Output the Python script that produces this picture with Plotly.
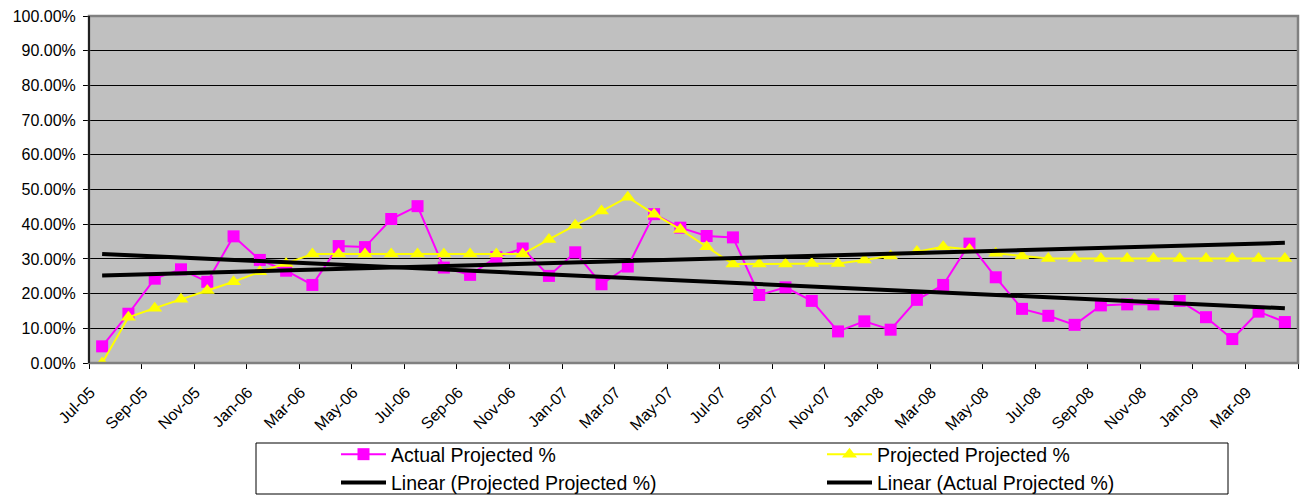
import numpy as np
import plotly.graph_objects as go

# Month labels, Jul-05 .. Apr-09
months = [
    "Jul-05", "Aug-05", "Sep-05", "Oct-05", "Nov-05", "Dec-05",
    "Jan-06", "Feb-06", "Mar-06", "Apr-06", "May-06", "Jun-06",
    "Jul-06", "Aug-06", "Sep-06", "Oct-06", "Nov-06", "Dec-06",
    "Jan-07", "Feb-07", "Mar-07", "Apr-07", "May-07", "Jun-07",
    "Jul-07", "Aug-07", "Sep-07", "Oct-07", "Nov-07", "Dec-07",
    "Jan-08", "Feb-08", "Mar-08", "Apr-08", "May-08", "Jun-08",
    "Jul-08", "Aug-08", "Sep-08", "Oct-08", "Nov-08", "Dec-08",
    "Jan-09", "Feb-09", "Mar-09", "Apr-09",
]

# Actual Projected % (fractions)
actual = [
    0.048, 0.142, 0.243, 0.270, 0.234, 0.365, 0.297, 0.266, 0.225, 0.337,
    0.334, 0.415, 0.452, 0.275, 0.254, 0.305, 0.330, 0.251, 0.319, 0.227,
    0.278, 0.429, 0.390, 0.366, 0.362, 0.196, 0.218, 0.179, 0.091, 0.120,
    0.096, 0.182, 0.225, 0.344, 0.247, 0.156, 0.136, 0.110, 0.166, 0.169,
    0.169, 0.179, 0.132, 0.069, 0.148, 0.118,
]

# Projected Projected % (fractions)
projected = [
    0.000, 0.132, 0.158, 0.184, 0.209, 0.234, 0.263, 0.287, 0.314, 0.314,
    0.314, 0.314, 0.314, 0.314, 0.314, 0.314, 0.314, 0.356, 0.397, 0.438,
    0.478, 0.429, 0.385, 0.335, 0.285, 0.285, 0.285, 0.287, 0.287, 0.297,
    0.308, 0.321, 0.335, 0.327, 0.316, 0.308, 0.301, 0.301, 0.301, 0.301,
    0.301, 0.301, 0.301, 0.301, 0.301, 0.301,
]

x = np.arange(len(months))

# Least-squares linear trends
pa = np.polyfit(x, actual, 1)
pp = np.polyfit(x, projected, 1)
trend_actual = np.polyval(pa, x)
trend_projected = np.polyval(pp, x)

FONT = "Liberation Sans, Arial, sans-serif"

# plot-area geometry in pixels (used to place the legend box)
L, R, T, B = 89, 1298, 16, 363
PW, PH = R - L, B - T


def px_x(p):
    return (p - L) / PW


def px_y(p):
    return (B - p) / PH


fig = go.Figure()

fig.add_trace(go.Scatter(
    x=x, y=actual, name="Actual Projected %", mode="lines+markers",
    line=dict(color="#FF00FF", width=2),
    marker=dict(symbol="square", size=12, color="#FF00FF"),
))
fig.add_trace(go.Scatter(
    x=x, y=projected, name="Projected Projected %", mode="lines+markers",
    line=dict(color="#FFFF00", width=2),
    marker=dict(symbol="triangle-up", size=13, color="#FFFF00"),
))
fig.add_trace(go.Scatter(
    x=x, y=trend_projected, name="Linear (Projected Projected %)", mode="lines",
    line=dict(color="#000000", width=4),
))
fig.add_trace(go.Scatter(
    x=x, y=trend_actual, name="Linear (Actual Projected %)", mode="lines",
    line=dict(color="#000000", width=4),
))

# labels sit just right of the two-month boundary ticks
fig.update_xaxes(
    range=[-0.5, len(months) - 0.5],
    tickmode="array",
    tickvals=x[::2] - 0.45,
    ticktext=months[::2],
    tickangle=-45,
    ticks="",
    ticklabelstandoff=16,
    showgrid=False,
    zeroline=False,
    showline=False,
    tickfont=dict(family=FONT, size=16, color="#000000"),
    minor=dict(
        tickmode="array",
        tickvals=list(np.arange(-0.5, len(months), 2.0)),
        ticks="outside", ticklen=5, tickcolor="#000000", tickwidth=1,
        showgrid=False,
    ),
)
fig.update_yaxes(
    range=[0, 1],
    dtick=0.1,
    tickformat=".2%",
    ticks="outside", ticklen=5, tickcolor="#000000",
    ticklabelstandoff=4,
    showgrid=True, gridcolor="#000000", gridwidth=1,
    zeroline=False,
    showline=True, linecolor="#000000", linewidth=1,
    tickfont=dict(family=FONT, size=16, color="#000000"),
)

# Plot-area frame and legend box
fig.add_shape(type="rect", xref="paper", yref="paper", x0=0, x1=1, y0=0, y1=1,
              line=dict(color="#808080", width=2.5), layer="above")
fig.add_shape(type="line", xref="paper", yref="paper", x0=0, x1=0, y0=0, y1=1,
              line=dict(color="#000000", width=1.5), layer="above")
fig.add_shape(type="rect", xref="paper", yref="paper",
              x0=px_x(256), x1=px_x(1228), y0=px_y(494), y1=px_y(443),
              line=dict(color="#000000", width=1), fillcolor="rgba(0,0,0,0)")

fig.update_layout(
    width=1301, height=496,
    margin=dict(l=L, r=1301 - R, t=T, b=496 - B, autoexpand=False),
    paper_bgcolor="#FFFFFF",
    plot_bgcolor="#C0C0C0",
    showlegend=True,
    legend=dict(
        orientation="h",
        x=px_x(336), xanchor="left",
        y=px_y(435), yanchor="top",
        entrywidth=426, entrywidthmode="pixels",
        font=dict(family=FONT, size=19.5, color="#000000"),
        bgcolor="rgba(0,0,0,0)",
        tracegroupgap=0,
        itemwidth=45,
    ),
    font=dict(family=FONT, color="#000000"),
)

fig.write_html("out.html")
